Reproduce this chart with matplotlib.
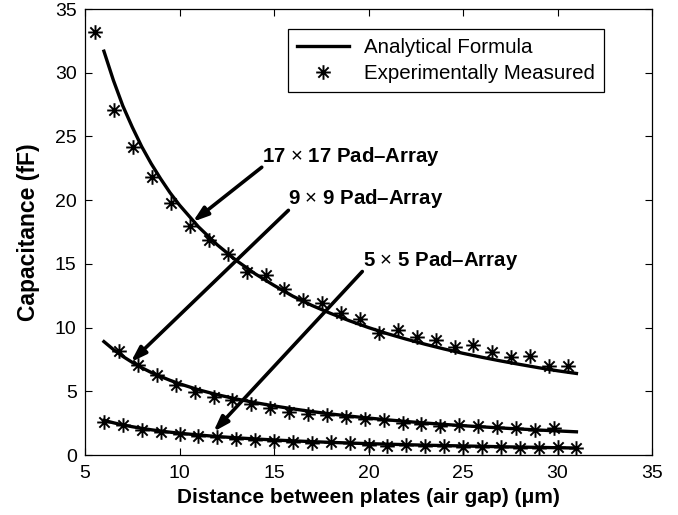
import matplotlib
matplotlib.use("Agg")
import matplotlib.pyplot as plt
from matplotlib.path import Path

plt.rcParams['font.family'] = ['Liberation Sans', 'DejaVu Sans']
plt.rcParams['mathtext.fontset'] = 'custom'
plt.rcParams['mathtext.rm'] = 'Liberation Sans'
plt.rcParams['mathtext.default'] = 'rm'

# ---- Analytical formula curves ----
fit_x = [6, 6.5, 7, 7.5, 8, 8.5, 9, 9.5, 10, 11, 12, 13, 14, 15, 16, 17, 18, 19, 20,
         21, 22, 23, 24, 25, 26, 27, 28, 29, 30, 31]
fit_17 = [31.69, 29.41, 27.40, 25.73, 24.20, 22.87, 21.68, 20.58, 19.61, 17.91, 16.49,
          15.27, 14.22, 13.31, 12.46, 11.74, 11.11, 10.53, 10.00, 9.52, 9.09, 8.69,
          8.32, 7.98, 7.67, 7.38, 7.11, 6.85, 6.61, 6.40]
fit_9 = [8.90, 8.28, 7.74, 7.27, 6.85, 6.48, 6.16, 5.86, 5.59, 5.12, 4.73, 4.40, 4.11,
         3.85, 3.62, 3.41, 3.22, 3.05, 2.90, 2.76, 2.63, 2.51, 2.40, 2.30, 2.21, 2.12,
         2.04, 1.96, 1.89, 1.82]
fit_5 = [2.72, 2.53, 2.36, 2.22, 2.09, 1.98, 1.88, 1.79, 1.71, 1.57, 1.45, 1.35, 1.26,
         1.18, 1.11, 1.05, 0.99, 0.94, 0.89, 0.85, 0.81, 0.77, 0.74, 0.71, 0.68, 0.65,
         0.62, 0.60, 0.57, 0.55]

# ---- Experimentally measured points ----
meas17_x = [5.55, 6.55, 7.55, 8.55, 9.55, 10.55, 11.55, 12.55, 13.55, 14.55, 15.55,
            16.55, 17.55, 18.55, 19.55, 20.55, 21.55, 22.55, 23.55, 24.55, 25.55,
            26.55, 27.55, 28.55, 29.55, 30.55]
meas17_y = [33.2, 27.1, 24.15, 21.85, 19.8, 17.95, 16.85, 15.75, 14.35, 14.1, 13.0,
            12.2, 11.9, 11.15, 10.65, 9.6, 9.8, 9.25, 9.05, 8.45, 8.65, 8.1, 7.7,
            7.8, 7.0, 7.0]
meas9_x = [6.8, 7.8, 8.8, 9.8, 10.8, 11.8, 12.8, 13.8, 14.8, 15.8, 16.8, 17.8, 18.8,
           19.8, 20.8, 21.8, 22.8, 23.8, 24.8, 25.8, 26.8, 27.8, 28.8, 29.8]
meas9_y = [8.15, 7.03, 6.25, 5.5, 4.95, 4.56, 4.3, 4.03, 3.72, 3.38, 3.25, 3.12, 2.96,
           2.81, 2.73, 2.52, 2.47, 2.29, 2.34, 2.27, 2.16, 2.08, 1.95, 2.08]
meas5_x = [6, 7, 8, 9, 10, 11, 12, 13, 14, 15, 16, 17, 18, 19, 20, 21, 22, 23, 24, 25,
           26, 27, 28, 29, 30, 31]
meas5_y = [2.6, 2.34, 1.95, 1.82, 1.61, 1.51, 1.38, 1.25, 1.17, 1.09, 1.04, 0.93, 1.0,
           0.93, 0.78, 0.73, 0.78, 0.73, 0.73, 0.6, 0.65, 0.65, 0.57, 0.57, 0.6, 0.52]

x_ticks = [5, 10, 15, 20, 25, 30, 35]
y_ticks = [0, 5, 10, 15, 20, 25, 30, 35]

labels = [r"17 $\times$ 17 Pad\u2013Array", r"9 $\times$ 9 Pad\u2013Array",
          r"5 $\times$ 5 Pad\u2013Array"]
labels = [l.replace("\\u2013", "\u2013") for l in labels]
label_pos = [(14.37, 22.99), (15.76, 19.66), (19.73, 14.84)]
arrow_tail = [(14.35, 22.58), (15.76, 19.2), (19.67, 14.4)]
arrow_head = [(10.7, 18.3), (7.42, 7.29), (11.79, 1.82)]

# MATLAB-like asterisk marker
s = 0.7071
ast = Path([(0, -1), (0, 1), (-1, 0), (1, 0), (-s, -s), (s, s), (-s, s), (s, -s)],
           [Path.MOVETO, Path.LINETO] * 4)

fig = plt.figure(figsize=(6.78, 5.15), dpi=100)
ax = fig.add_axes([0.1254, 0.1165, 0.8363, 0.8660])

lw = 2.4
ln, = ax.plot(fit_x, fit_17, color='k', lw=lw, label='Analytical Formula')
ax.plot(fit_x, fit_9, color='k', lw=lw)
ax.plot(fit_x, fit_5, color='k', lw=lw)
mk = dict(ls='none', marker=ast, ms=10.5, mew=1.4, mec='k', mfc='none')
pts, = ax.plot(meas17_x, meas17_y, label='Experimentally Measured', **mk)
ax.plot(meas9_x, meas9_y, **mk)
ax.plot(meas5_x, meas5_y, **mk)

for (tx, ty), (hx, hy) in zip(arrow_tail, arrow_head):
    ax.annotate('', xy=(hx, hy), xytext=(tx, ty),
                arrowprops=dict(arrowstyle='-|>,head_length=0.9,head_width=0.3',
                                lw=2.6, color='k', shrinkA=0, shrinkB=0))
for lab, (lx, ly) in zip(labels, label_pos):
    ax.text(lx, ly, lab, fontsize=14.7, fontweight='bold', ha='left', va='baseline')

ax.set_xlim(5, 35)
ax.set_ylim(0, 35)
ax.set_xticks(x_ticks)
ax.set_yticks(y_ticks)
ax.tick_params(direction='in', top=True, right=True, length=5, width=0.8,
               labelsize=14, pad=6)
ax.tick_params(axis='x', pad=7.5)
for sp in ax.spines.values():
    sp.set_linewidth(0.9)

ax.set_xlabel('Distance between plates (air gap) (\u03bcm)', fontsize=15,
              fontweight='bold', labelpad=4)
ax.set_ylabel('Capacitance (fF)', fontsize=16.5, fontweight='bold', labelpad=11)

leg = ax.legend(handles=[ln, pts], loc='upper left', bbox_to_anchor=(0.358, 0.956),
                borderaxespad=0, fontsize=14.8, fancybox=False, edgecolor='k',
                framealpha=1, handlelength=2.5, handletextpad=0.73, borderpad=0.45,
                labelspacing=0.35)
leg.get_frame().set_linewidth(0.9)

fig.savefig('out.png', dpi=100)
